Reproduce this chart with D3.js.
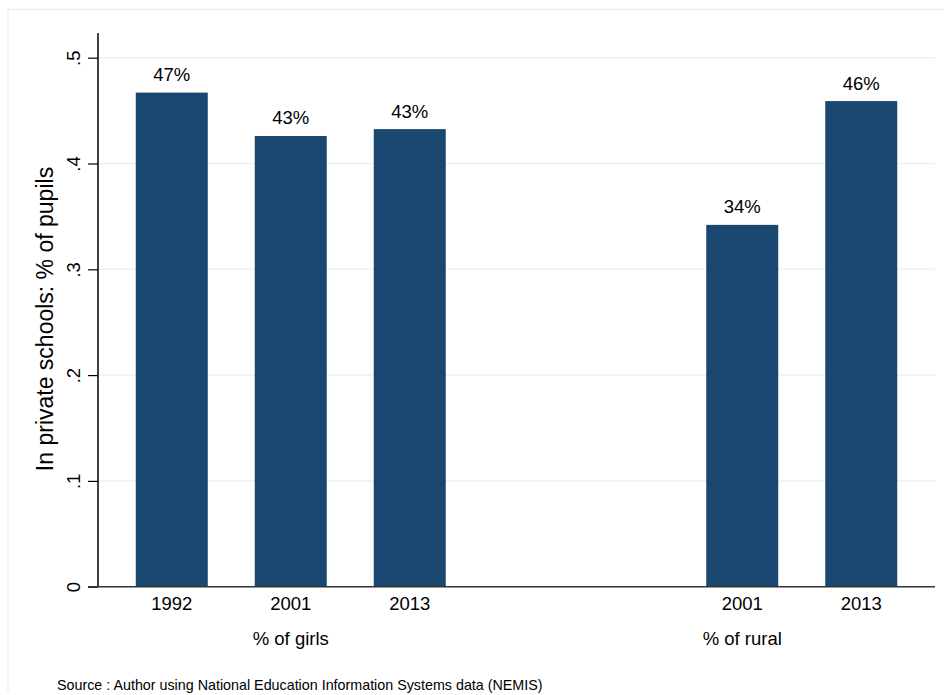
<!DOCTYPE html>
<html><head><meta charset="utf-8">
<script src="https://cdn.jsdelivr.net/npm/d3@7"></script>
<style>body{margin:0;background:#fff}svg{display:block}text{font-family:"Liberation Sans",Arial,Helvetica,sans-serif;fill:#000}</style>
</head><body><svg id="c" width="944" height="695"></svg>
<script>
const groups = ["% of girls", "% of rural"];
const years = ["1992", "2001", "2013"];
const girlsValues = [0.467, 0.426, 0.4325];
const ruralValues = [null, 0.342, 0.459];
const yTicks = [0, 0.1, 0.2, 0.3, 0.4, 0.5];
const yTickLabels = ["0", ".1", ".2", ".3", ".4", ".5"];
const yTitle = "In private schools: % of pupils";
const note = "Source : Author using National Education Information Systems data (NEMIS)";

const seriesByGroup = [girlsValues, ruralValues];
const data = [];
groups.forEach((g, gi) => years.forEach((yr, i) => {
  const v = seriesByGroup[gi][i];
  if (v != null) data.push({group: g, year: yr, value: v});
}));

const svg = d3.select("#c");
const L = 98, R = 935, T = 57.7, B = 586.7;

// outer frame (top and left edges visible)
svg.append("path").attr("d", "M8,692V9.5H944")
  .attr("fill", "none").attr("stroke", "#eaf2f3").attr("stroke-width", 1.5);

const y = d3.scaleLinear().domain([0, 0.5]).range([B, T]);
const xg = d3.scaleBand().domain(groups).range([L, R]).paddingInner(0.2093).paddingOuter(0.0316);
const xi = d3.scaleBand().domain(years).range([0, xg.bandwidth()]).paddingInner(0.395).paddingOuter(0.1975);

// gridlines
svg.append("g").selectAll("line").data(yTicks.filter(d => d > 0)).join("line")
  .attr("x1", L).attr("x2", R).attr("y1", d => y(d)).attr("y2", d => y(d))
  .attr("stroke", "#eaf2f3").attr("stroke-width", 1.5);

// bars
svg.append("g").selectAll("rect").data(data).join("rect")
  .attr("x", d => xg(d.group) + xi(d.year))
  .attr("width", xi.bandwidth())
  .attr("y", d => y(d.value))
  .attr("height", d => y(0) - y(d.value))
  .attr("fill", "#1a476f");

// bar labels
svg.append("g").selectAll("text").data(data).join("text")
  .attr("x", d => xg(d.group) + xi(d.year) + xi.bandwidth() / 2)
  .attr("y", d => y(d.value) - 11.5)
  .attr("text-anchor", "middle").attr("font-size", 18.5)
  .text(d => Math.round(d.value * 100) + "%");

// y axis
const yAxis = d3.axisLeft(y).tickValues(yTicks).tickSize(10).tickFormat((d, i) => yTickLabels[i]);
const ga = svg.append("g").attr("transform", `translate(${L},0)`).call(yAxis);
ga.select(".domain").attr("d", `M0,${B}V33`).attr("stroke", "#000").attr("stroke-width", 1.5);
ga.selectAll(".tick line").attr("stroke", "#000").attr("stroke-width", 1.2);
ga.selectAll(".tick text").attr("font-size", 18.5).attr("font-family", "Liberation Sans, Arial, sans-serif")
  .attr("fill", "#000").attr("text-anchor", "middle")
  .attr("x", 0).attr("y", 0).attr("dy", 0)
  .attr("transform", "translate(-18,0) rotate(-90)");

// x baseline
svg.append("line").attr("x1", L - 10).attr("x2", R).attr("y1", B).attr("y2", B)
  .attr("stroke", "#333").attr("stroke-width", 1.5);

// year labels
svg.append("g").selectAll("text").data(data).join("text")
  .attr("x", d => xg(d.group) + xi(d.year) + xi.bandwidth() / 2)
  .attr("y", 609.5).attr("text-anchor", "middle").attr("font-size", 18.5)
  .text(d => d.year);

// group labels
svg.append("g").selectAll("text").data(groups).join("text")
  .attr("x", d => xg(d) + xg.bandwidth() / 2)
  .attr("y", 644.5).attr("text-anchor", "middle").attr("font-size", 18.5)
  .text(d => d);

// y title
svg.append("text").attr("transform", `translate(53,319) rotate(-90)`)
  .attr("text-anchor", "middle").attr("font-size", 23).text(yTitle);

// note
svg.append("text").attr("x", 57).attr("y", 689.5).attr("font-size", 14.3).text(note);
</script></body></html>
